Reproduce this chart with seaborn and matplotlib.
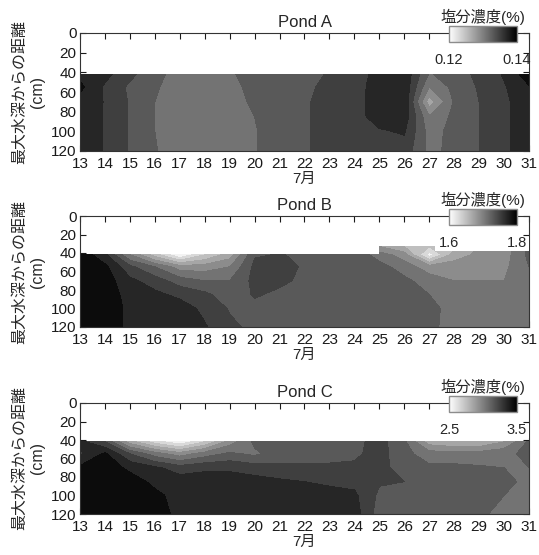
import matplotlib.pyplot as plt
import numpy as np
import seaborn as sns
from matplotlib.cm import ScalarMappable
from matplotlib.colors import Normalize
from matplotlib.patches import Rectangle

# grid of the measurements
days = list(range(13, 32))
depths_ac = [42, 55, 70, 85, 100, 120]
depths_b = [33, 42, 55, 70, 85, 100, 120]
day_ticks = list(range(13, 32))
depth_ticks = [0, 20, 40, 60, 80, 100, 120]

# salinity (%) - one list per day, from top to bottom
salt_a = [
    [0.1375, 0.1385, 0.1372, 0.1370, 0.1370, 0.1370],
    [0.1366, 0.1357, 0.1359, 0.1359, 0.1359, 0.1359],
    [0.1345, 0.1336, 0.1338, 0.1338, 0.1338, 0.1338],
    [0.1326, 0.1322, 0.1320, 0.1320, 0.1320, 0.1321],
    [0.1312, 0.1312, 0.1312, 0.1312, 0.1312, 0.1312],
    [0.1312, 0.1312, 0.1312, 0.1312, 0.1312, 0.1312],
    [0.1318, 0.1315, 0.1313, 0.1313, 0.1314, 0.1315],
    [0.1326, 0.1325, 0.1323, 0.1320, 0.1319, 0.1319],
    [0.1328, 0.1327, 0.1327, 0.1327, 0.1327, 0.1327],
    [0.1332, 0.1335, 0.1338, 0.1338, 0.1338, 0.1338],
    [0.1342, 0.1346, 0.1346, 0.1346, 0.1346, 0.1346],
    [0.1349, 0.1352, 0.1353, 0.1353, 0.1351, 0.1348],
    [0.1368, 0.1369, 0.1369, 0.1368, 0.1358, 0.1352],
    [0.1376, 0.1376, 0.1376, 0.1372, 0.1362, 0.1352],
    [0.1318, 0.1300, 0.1268, 0.1302, 0.1312, 0.1314],
    [0.1330, 0.1326, 0.1322, 0.1325, 0.1326, 0.1326],
    [0.1345, 0.1342, 0.1340, 0.1340, 0.1340, 0.1340],
    [0.1362, 0.1358, 0.1356, 0.1356, 0.1356, 0.1356],
    [0.1392, 0.1378, 0.1372, 0.1372, 0.1372, 0.1372],
]

salt_b = [
    [np.nan, 1.795, 1.805, 1.810, 1.810, 1.810, 1.810],
    [np.nan, 1.765, 1.785, 1.790, 1.795, 1.800, 1.800],
    [np.nan, 1.700, 1.745, 1.765, 1.770, 1.772, 1.772],
    [np.nan, 1.650, 1.720, 1.750, 1.765, 1.770, 1.770],
    [np.nan, 1.600, 1.690, 1.730, 1.755, 1.770, 1.770],
    [np.nan, 1.640, 1.690, 1.720, 1.745, 1.755, 1.762],
    [np.nan, 1.670, 1.700, 1.720, 1.728, 1.738, 1.745],
    [np.nan, 1.738, 1.745, 1.746, 1.742, 1.735, 1.734],
    [np.nan, 1.741, 1.746, 1.744, 1.736, 1.734, 1.733],
    [np.nan, 1.737, 1.738, 1.736, 1.735, 1.734, 1.733],
    [np.nan, 1.735, 1.735, 1.735, 1.735, 1.734, 1.733],
    [np.nan, 1.735, 1.735, 1.735, 1.735, 1.734, 1.733],
    [1.680, 1.710, 1.728, 1.733, 1.735, 1.735, 1.733],
    [1.660, 1.690, 1.710, 1.725, 1.732, 1.735, 1.733],
    [1.640, 1.610, 1.690, 1.710, 1.720, 1.728, 1.725],
    [1.650, 1.670, 1.690, 1.700, 1.705, 1.710, 1.712],
    [1.680, 1.685, 1.690, 1.700, 1.705, 1.708, 1.710],
    [1.690, 1.690, 1.695, 1.700, 1.703, 1.706, 1.708],
    [1.725, 1.725, 1.720, 1.705, 1.700, 1.700, 1.700],
]

salt_c = [
    [3.33, 3.28, 3.42, 3.45, 3.45, 3.45],
    [3.20, 3.42, 3.45, 3.46, 3.46, 3.46],
    [2.85, 3.20, 3.38, 3.44, 3.46, 3.46],
    [2.65, 3.05, 3.32, 3.38, 3.42, 3.45],
    [2.52, 2.95, 3.25, 3.35, 3.37, 3.37],
    [2.70, 3.05, 3.28, 3.35, 3.37, 3.37],
    [2.95, 3.12, 3.28, 3.35, 3.37, 3.37],
    [3.12, 3.08, 3.25, 3.34, 3.37, 3.37],
    [3.15, 3.15, 3.22, 3.32, 3.36, 3.37],
    [3.15, 3.16, 3.22, 3.30, 3.35, 3.37],
    [3.15, 3.16, 3.22, 3.28, 3.34, 3.36],
    [3.17, 3.18, 3.22, 3.27, 3.32, 3.35],
    [3.24, 3.24, 3.23, 3.21, 3.18, 3.15],
    [3.12, 3.13, 3.16, 3.20, 3.17, 3.14],
    [2.85, 3.05, 3.12, 3.17, 3.16, 3.14],
    [2.80, 3.05, 3.12, 3.15, 3.15, 3.14],
    [2.80, 3.05, 3.11, 3.14, 3.14, 3.13],
    [2.90, 3.08, 3.10, 3.12, 3.10, 3.05],
    [3.12, 3.12, 3.10, 3.08, 3.05, 3.05],
]

ponds = ["Pond A", "Pond B", "Pond C"]
salts = [salt_a, salt_b, salt_c]
depth_grids = [depths_ac, depths_b, depths_ac]
ranges = [(0.12, 0.14), (1.6, 1.8), (2.5, 3.5)]
tick_fmt = ["{:.2f}", "{:.1f}", "{:.1f}"]

sns.set_theme(style="ticks")
plt.rcParams["font.family"] = ["Liberation Sans", "Noto Sans CJK JP"]

W, H = 539, 555
fig = plt.figure(figsize=(W / 100, H / 100), dpi=100)


def px_axes(x0, y0, x1, y1):
    # pixel box (from top left) -> figure axes
    return fig.add_axes([x0 / W, 1 - y1 / H, (x1 - x0) / W, (y1 - y0) / H])


# panel boxes in pixels
boxes = [(80, 33, 529, 151), (80, 216, 529, 327), (80, 403, 529, 514)]

cmap = plt.get_cmap("gray_r").copy()
cmap.set_over(cmap(0.95))
cmap.set_under(cmap(0.05))

for name, salt, depths, (lo, hi), fmt, box in zip(
    ponds, salts, depth_grids, ranges, tick_fmt, boxes
):
    ax = px_axes(*box)
    Z = np.ma.masked_invalid(np.array(salt, dtype=float).T)
    levels = np.linspace(lo, hi, 11)
    ax.contourf(days, depths, Z, levels=levels, cmap=cmap, extend="both",
                corner_mask=False)

    ax.set_xlim(13, 31)
    ax.set_ylim(120, 0)
    ax.set_xticks(day_ticks)
    ax.set_yticks(depth_ticks)
    ax.tick_params(direction="in", top=True, right=True, length=4, width=0.8,
                   labelsize=11, colors="0.1")
    ax.tick_params(axis="x", pad=4)
    ax.tick_params(axis="y", pad=2.5)
    for s in ax.spines.values():
        s.set_linewidth(0.8)
        s.set_color("0.2")
    ax.set_title(name, fontsize=12, pad=4)
    ax.set_xlabel("7月", fontsize=11, labelpad=1)
    ax.set_ylabel("最大水深からの距離\n(cm)", fontsize=11.5, linespacing=1.25)

    # small colorbar in the top right corner
    top = box[1]
    cax = px_axes(449, top - 7, 517, top + 9)
    cb = fig.colorbar(ScalarMappable(norm=Normalize(lo, hi), cmap="gray_r"),
                      cax=cax, orientation="horizontal")
    cb.set_ticks([lo, hi])
    cb.set_ticklabels([fmt.format(lo), fmt.format(hi)])
    cax.tick_params(length=0, labelsize=10.5, pad=8)
    cb.outline.set_edgecolor("0.55")
    cb.outline.set_linewidth(1)
    cax.set_title("塩分濃度(%)", fontsize=11, pad=3)
    cax.add_patch(Rectangle((-0.2, -1.6), 1.37, 0.85, transform=cax.transAxes,
                            facecolor="white", edgecolor="none", clip_on=False, zorder=0.5))

fig.savefig("out.png", dpi=100)
